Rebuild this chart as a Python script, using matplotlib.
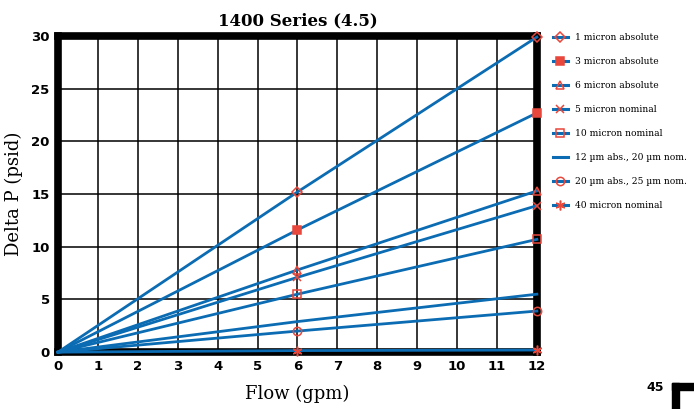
import numpy as np
import matplotlib.pyplot as plt
from matplotlib.patches import Rectangle
from matplotlib.lines import Line2D

# flow points (gpm) and delta P (psid)
flow = [0, 6, 12]
series_names = ["1 micron absolute", "3 micron absolute", "6 micron absolute",
                "5 micron nominal", "10 micron nominal", "12 \u00b5m abs., 20 \u00b5m nom.",
                "20 \u00b5m abs., 25 \u00b5m nom.", "40 micron nominal"]
dp_1abs = [0, 15.2, 29.9]
dp_3abs = [0, 11.6, 22.7]
dp_6abs = [0, 7.8, 15.3]
dp_5nom = [0, 7.1, 13.9]
dp_10nom = [0, 5.5, 10.7]
dp_12abs = [0, 2.9, 5.5]
dp_20abs = [0, 2.0, 3.9]
dp_40nom = [0, 0.15, 0.2]

all_dp = [dp_1abs, dp_3abs, dp_6abs, dp_5nom, dp_10nom, dp_12abs, dp_20abs, dp_40nom]
markers = ['D', 's', '^', 'x', 's', None, 'o', (6, 2, 0)]
filled = [False, True, False, True, False, False, False, True]
msizes = [5, 6, 6, 6, 6, 0, 6, 7]

blue = '#0b6cb3'
red = '#e8473b'

fig = plt.figure(figsize=(6.94, 4.09), dpi=100)
ax = fig.add_axes([0.0836, 0.139, 0.690, 0.773])

handles = []
for name, dp, m, f, ms in zip(series_names, all_dp, markers, filled, msizes):
    ax.plot(flow, dp, color=blue, lw=2, clip_on=False, zorder=3)
    if m is not None:
        ax.plot(flow[1:], dp[1:], ls='none', marker=m, markersize=ms,
                markerfacecolor=red if f else 'none', markeredgecolor=red,
                markeredgewidth=1.1, clip_on=False, zorder=4)
    handles.append(Line2D([], [], color=blue, lw=2.2, marker=m, markersize=ms,
                          markerfacecolor=red if f else 'none', markeredgecolor=red,
                          markeredgewidth=1.1, label=name))

ax.set_xlim(0, 12)
ax.set_ylim(0, 30)
ax.set_xticks(np.arange(0, 13, 1))
ax.set_yticks(np.arange(0, 31, 5))
ax.grid(True, color='black', lw=1.1)
ax.set_axisbelow(True)
for sp in ax.spines.values():
    sp.set_linewidth(5.5)
    sp.set_zorder(2)
ax.tick_params(length=0, pad=6)
for lab in ax.get_xticklabels() + ax.get_yticklabels():
    lab.set_fontweight('heavy')
    lab.set_fontsize(9.5)
    lab.set_family('DejaVu Sans')

ax.set_title("1400 Series (4.5)", family='DejaVu Serif', fontweight='bold', fontsize=12, pad=8)
ax.set_xlabel("Flow (gpm)", family='DejaVu Serif', fontsize=13, labelpad=8)
ax.set_ylabel("Delta P (psid)", family='DejaVu Serif', fontsize=13, labelpad=6)

ax.legend(handles=handles, loc='upper left', bbox_to_anchor=(1.025, 1.02), frameon=False,
          prop={'family': 'DejaVu Serif', 'size': 6.6}, handlelength=1.7, numpoints=1,
          handletextpad=0.8, labelspacing=1.63, borderaxespad=0)

# page number and corner mark
fig.text(0.957, 0.052, "45", fontsize=9, fontweight='heavy', ha='right', va='center')
fig.patches.append(Rectangle((0.968, 0.046), 0.032, 0.018, transform=fig.transFigure,
                             color='black', zorder=5))
fig.patches.append(Rectangle((0.968, 0.0), 0.011, 0.064, transform=fig.transFigure,
                             color='black', zorder=5))

fig.savefig("out.png", dpi=100)
